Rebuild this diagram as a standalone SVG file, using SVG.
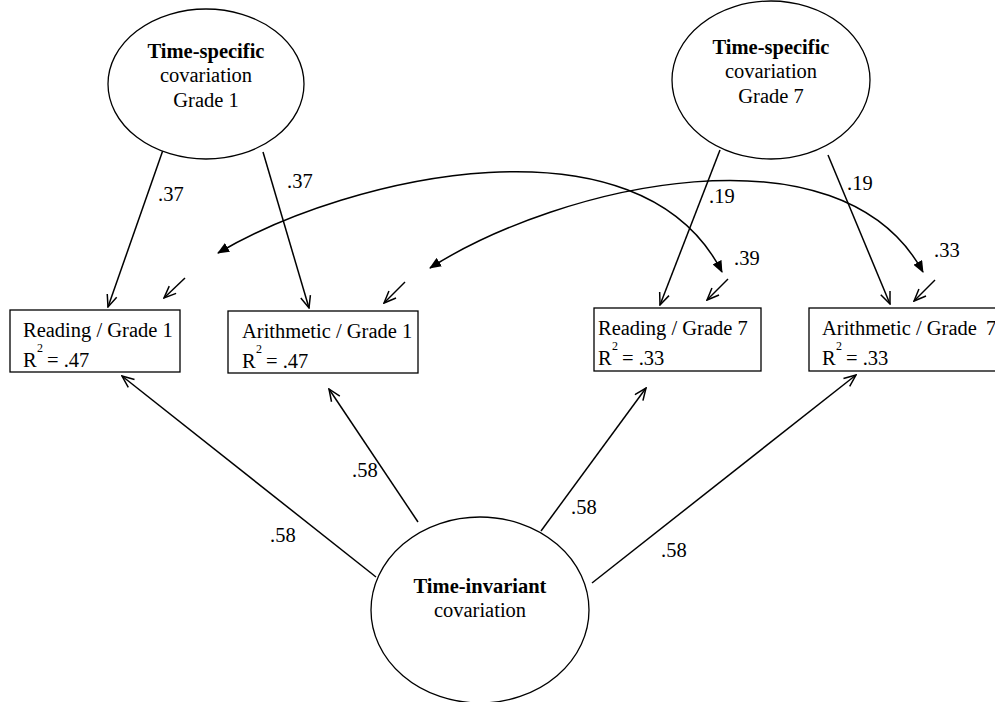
<svg xmlns="http://www.w3.org/2000/svg" width="995" height="702" viewBox="0 0 995 702">
<style>
text{font-family:"Liberation Serif","Times New Roman",Times,"DejaVu Serif",serif;font-size:20.5px;fill:#000}
.b{font-weight:bold}
.sup{font-size:12px}
.node{fill:#fff;stroke:#000;stroke-width:1.3}
.ln{fill:none;stroke:#000;stroke-width:1.5}
</style>
<defs>
<marker id="open" viewBox="0 0 14 12" refX="13" refY="6" markerWidth="14" markerHeight="12" markerUnits="userSpaceOnUse" orient="auto">
<path d="M1,1 L13,6 L1,11" fill="none" stroke="#000" stroke-width="1.5"/>
</marker>
<marker id="fill" viewBox="0 0 12 10" refX="11" refY="5" markerWidth="12" markerHeight="10" markerUnits="userSpaceOnUse" orient="auto-start-reverse">
<path d="M0,0 L12,5 L0,10 z" fill="#000"/>
</marker>
</defs>
<g id="connectors">
<line class="ln" x1="163" y1="150" x2="108" y2="307" marker-end="url(#open)"/>
<line class="ln" x1="263" y1="152" x2="309" y2="308" marker-end="url(#open)"/>
<line class="ln" x1="720" y1="150" x2="660" y2="305" marker-end="url(#open)"/>
<line class="ln" x1="828" y1="155" x2="890" y2="304" marker-end="url(#open)"/>
<line class="ln" x1="185" y1="278" x2="164" y2="298" marker-end="url(#open)"/>
<line class="ln" x1="405" y1="282" x2="384" y2="303" marker-end="url(#open)"/>
<line class="ln" x1="728" y1="279" x2="707" y2="300" marker-end="url(#open)"/>
<line class="ln" x1="935" y1="280" x2="914" y2="301" marker-end="url(#open)"/>
<path class="ln" d="M218,253 C350,175 640,110 722,272" marker-start="url(#fill)" marker-end="url(#fill)"/>
<path class="ln" d="M430,268 C560,185 840,120 923,272" marker-start="url(#fill)" marker-end="url(#fill)"/>
<line class="ln" x1="376" y1="577" x2="122" y2="376" marker-end="url(#open)"/>
<line class="ln" x1="418" y1="522" x2="329" y2="389" marker-end="url(#open)"/>
<line class="ln" x1="541" y1="531" x2="646" y2="388" marker-end="url(#open)"/>
<line class="ln" x1="592" y1="583" x2="856" y2="375" marker-end="url(#open)"/>
<text x="158" y="201">.37</text>
<text x="287" y="188">.37</text>
<text x="709" y="203">.19</text>
<text x="847" y="190">.19</text>
<text x="734" y="265">.39</text>
<text x="934" y="257">.33</text>
<text x="352" y="477">.58</text>
<text x="270" y="542">.58</text>
<text x="571" y="514">.58</text>
<text x="661" y="557">.58</text>
</g>
<g id="ts1">
<ellipse class="node" cx="206" cy="84" rx="98" ry="75"/>
<text class="b" x="206" y="58" text-anchor="middle">Time-specific</text>
<text x="206" y="82" text-anchor="middle">covariation</text>
<text x="206" y="107" text-anchor="middle">Grade 1</text>
</g>
<g id="ts7">
<ellipse class="node" cx="771" cy="80" rx="99" ry="79"/>
<text class="b" x="771" y="54" text-anchor="middle">Time-specific</text>
<text x="771" y="78" text-anchor="middle">covariation</text>
<text x="771" y="103" text-anchor="middle">Grade 7</text>
</g>
<g id="ti">
<ellipse class="node" cx="480" cy="610" rx="109" ry="93"/>
<text class="b" x="480" y="593" text-anchor="middle">Time-invariant</text>
<text x="480" y="617" text-anchor="middle">covariation</text>
</g>
<g id="r1">
<rect class="node" x="10" y="310" width="170" height="62"/>
<text x="23" y="337">Reading / Grade 1</text>
<text x="23" y="367">R</text><text class="sup" x="37" y="352">2</text><text x="47" y="367">= .47</text>
</g>
<g id="a1">
<rect class="node" x="228" y="311" width="190" height="62"/>
<text x="242" y="338">Arithmetic / Grade 1</text>
<text x="242" y="368">R</text><text class="sup" x="256" y="353">2</text><text x="266" y="368">= .47</text>
</g>
<g id="r7">
<rect class="node" x="594" y="308" width="167" height="63"/>
<text x="598" y="335">Reading / Grade 7</text>
<text x="598" y="365">R</text><text class="sup" x="612" y="350">2</text><text x="622" y="365">= .33</text>
</g>
<g id="a7">
<rect class="node" x="809" y="308" width="200" height="63"/>
<text x="822" y="335">Arithmetic / Grade <tspan x="986">7</tspan></text>
<text x="822" y="365">R</text><text class="sup" x="836" y="350">2</text><text x="846" y="365">= .33</text>
</g>
</svg>
